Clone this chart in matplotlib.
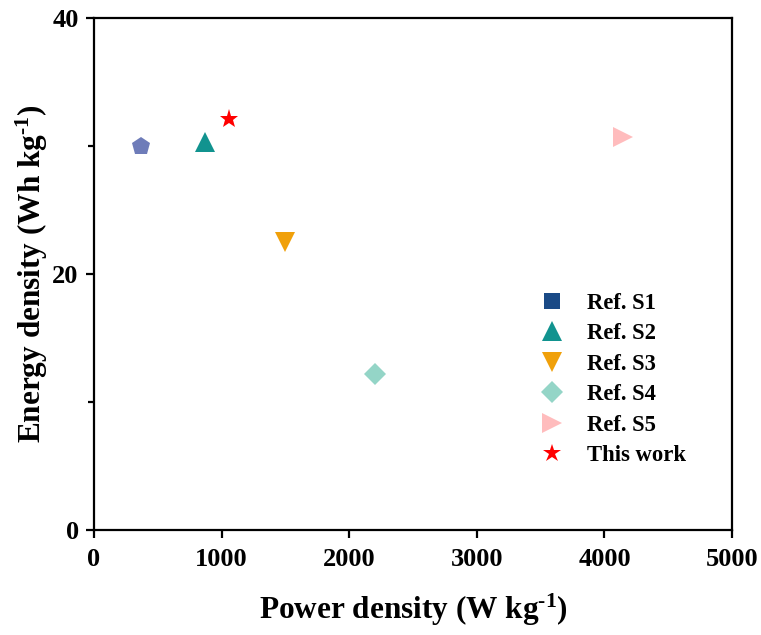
import matplotlib
matplotlib.use("Agg")
import matplotlib.pyplot as plt
from matplotlib.ticker import MultipleLocator
from matplotlib.lines import Line2D

plt.rcParams['font.family'] = ['Liberation Serif', 'DejaVu Serif']
plt.rcParams['font.weight'] = 'bold'
plt.rcParams['mathtext.fontset'] = 'custom'
plt.rcParams['mathtext.rm'] = 'Liberation Serif:bold'
plt.rcParams['mathtext.default'] = 'rm'

labels = ['Ref. S1', 'Ref. S2', 'Ref. S3', 'Ref. S4', 'Ref. S5', 'This work']
power = [368, 870, 1497, 2202, 4146, 1058]
energy = [30.0, 30.3, 22.5, 12.2, 30.7, 32.1]
# marker drawn in the plot (S1 appears as a pentagon in the plot, square in legend)
plot_markers = ['p', '^', 'v', 'D', '>', '*']
plot_colors = ['#6e7cb9', '#11938f', '#f0a00a', '#94d5c7', '#ffbcbd', '#ff0000']
legend_markers = ['s', '^', 'v', 'D', '>', '*']
legend_colors = ['#1a4a86', '#11938f', '#f0a00a', '#94d5c7', '#ffbcbd', '#ff0000']
plot_sizes = [13.5, 14, 14, 11, 14, 14]
legend_sizes = [11, 14, 14, 11, 14, 13.5]

fig = plt.figure(figsize=(7.61, 6.35), dpi=100)
ax = fig.add_axes([0.1235, 0.1654, 0.8385, 0.8063])

for x, y, m, c, s in zip(power, energy, plot_markers, plot_colors, plot_sizes):
    ax.plot([x], [y], linestyle='none', marker=m, color=c, markersize=s,
            markeredgewidth=0)

handles = [Line2D([], [], linestyle='none', marker=m, color=c, markersize=s,
                  markeredgewidth=0)
           for m, c, s in zip(legend_markers, legend_colors, legend_sizes)]

ax.set_xlim(0, 5000)
ax.set_ylim(0, 40)
ax.xaxis.set_major_locator(MultipleLocator(1000))
ax.yaxis.set_major_locator(MultipleLocator(20))
ax.yaxis.set_minor_locator(MultipleLocator(10))

for sp in ax.spines.values():
    sp.set_linewidth(1.6)
ax.tick_params(which='major', direction='out', length=6, width=1.6, labelsize=19, pad=7)
ax.tick_params(axis='y', which='major', pad=5)
ax.tick_params(which='minor', direction='out', length=4, width=1.6)
ax.tick_params(top=False, right=False)
for t in ax.get_xticklabels() + ax.get_yticklabels():
    t.set_fontweight('bold')

ax.set_xlabel(r'Power density (W kg$^{\text{-1}}$)', fontsize=22.5, fontweight='bold', labelpad=15)
ax.set_ylabel(r'Energy density (Wh kg$^{\text{-1}}$)', fontsize=22.5, fontweight='bold', labelpad=2)

leg = ax.legend(handles, labels, loc='lower left', bbox_to_anchor=(0.65, 0.085),
                frameon=False, prop={'weight': 'bold', 'size': 16.3},
                handletextpad=0.55, labelspacing=0.42, numpoints=1)

fig.savefig('out.png', dpi=100)
